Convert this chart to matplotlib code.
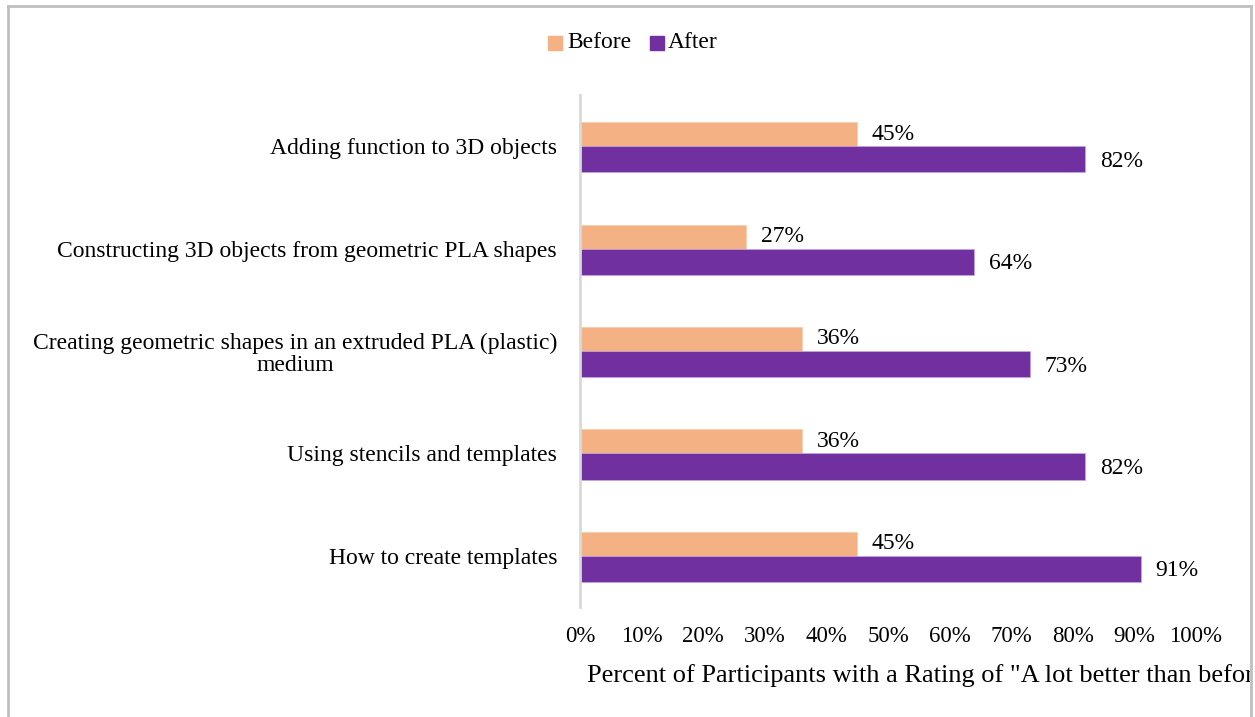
import matplotlib
matplotlib.use("Agg")
import matplotlib.pyplot as plt
from matplotlib.lines import Line2D
from matplotlib.patches import Rectangle
from matplotlib.transforms import Bbox
import numpy as np

plt.rcParams['font.family'] = ['Liberation Serif', 'DejaVu Serif']

categories = [
    "Adding function to 3D objects",
    "Constructing 3D objects from geometric PLA shapes",
    "Creating geometric shapes in an extruded PLA (plastic)\nmedium",
    "Using stencils and templates",
    "How to create templates",
]
before = [45, 27, 36, 36, 45]
after = [82, 64, 73, 82, 91]
xticks = list(range(0, 101, 10))
xlabel = 'Percent of Participants with a Rating of "A lot better than before"'

W, H = 1255, 717
fig = plt.figure(figsize=(W / 100, H / 100), dpi=100)
ax = fig.add_axes([580 / W, 1 - 607 / H, 616 / W, 512 / H])

c_before = "#F4B183"
c_after = "#7030A0"
fs = 17

y = np.arange(len(categories))
h = 0.235
hb = 0.255
ax.barh(y - h / 2, before, height=h, color=c_before, edgecolor="#F8CBAD", linewidth=0.5)
ax.barh(y + hb / 2, after, height=hb, color=c_after, edgecolor="#C9A6E0", linewidth=0.5)
for yi, b, a in zip(y, before, after):
    ax.text(b + 2.4, yi - h / 2, f"{b}%", va="center", ha="left", fontsize=fs)
    ax.text(a + 2.4, yi + hb / 2 + 0.02, f"{a}%", va="center", ha="left", fontsize=fs)

ax.set_xlim(0, 100)
ax.set_ylim(len(categories) - 0.5, -0.5)
ax.set_yticks(y)
ax.set_yticklabels(categories, fontsize=fs, linespacing=1.1, multialignment="center")
ax.set_xticks(xticks)
ax.set_xticklabels([f"{t}%" for t in xticks], fontsize=fs - 0.5)
ax.tick_params(axis="y", length=0, pad=16.5)
ax.tick_params(axis="x", length=0, pad=14)
for s in ["top", "right", "bottom"]:
    ax.spines[s].set_visible(False)
ax.spines["left"].set_color("#D9D9D9")
ax.spines["left"].set_linewidth(2)

xl = fig.text(587 / W, 1 - 676 / H, xlabel, fontsize=19, ha="left", va="center")
xl.set_clip_box(Bbox.from_extents(0, 0, 1250, H))

# legend
fig.add_artist(Rectangle((548 / W, 1 - 50 / H), 14 / W, 14 / H, color=c_before, transform=fig.transFigure))
fig.text(567 / W, 1 - 43 / H, "Before", fontsize=fs, va="center", ha="left")
fig.add_artist(Rectangle((650 / W, 1 - 50 / H), 14 / W, 14 / H, color=c_after, transform=fig.transFigure))
fig.text(668 / W, 1 - 43 / H, "After", fontsize=fs, va="center", ha="left")

# frame border
bc = "#BFBFBF"
fig.add_artist(Line2D([8 / W, 8 / W], [0, 1 - 6 / H], color=bc, lw=2, transform=fig.transFigure))
fig.add_artist(Line2D([8 / W, 1251 / W], [1 - 6 / H, 1 - 6 / H], color=bc, lw=2, transform=fig.transFigure))
fig.add_artist(Line2D([1251 / W, 1251 / W], [0, 1 - 6 / H], color=bc, lw=2, transform=fig.transFigure))

fig.savefig("out.png", dpi=100)
